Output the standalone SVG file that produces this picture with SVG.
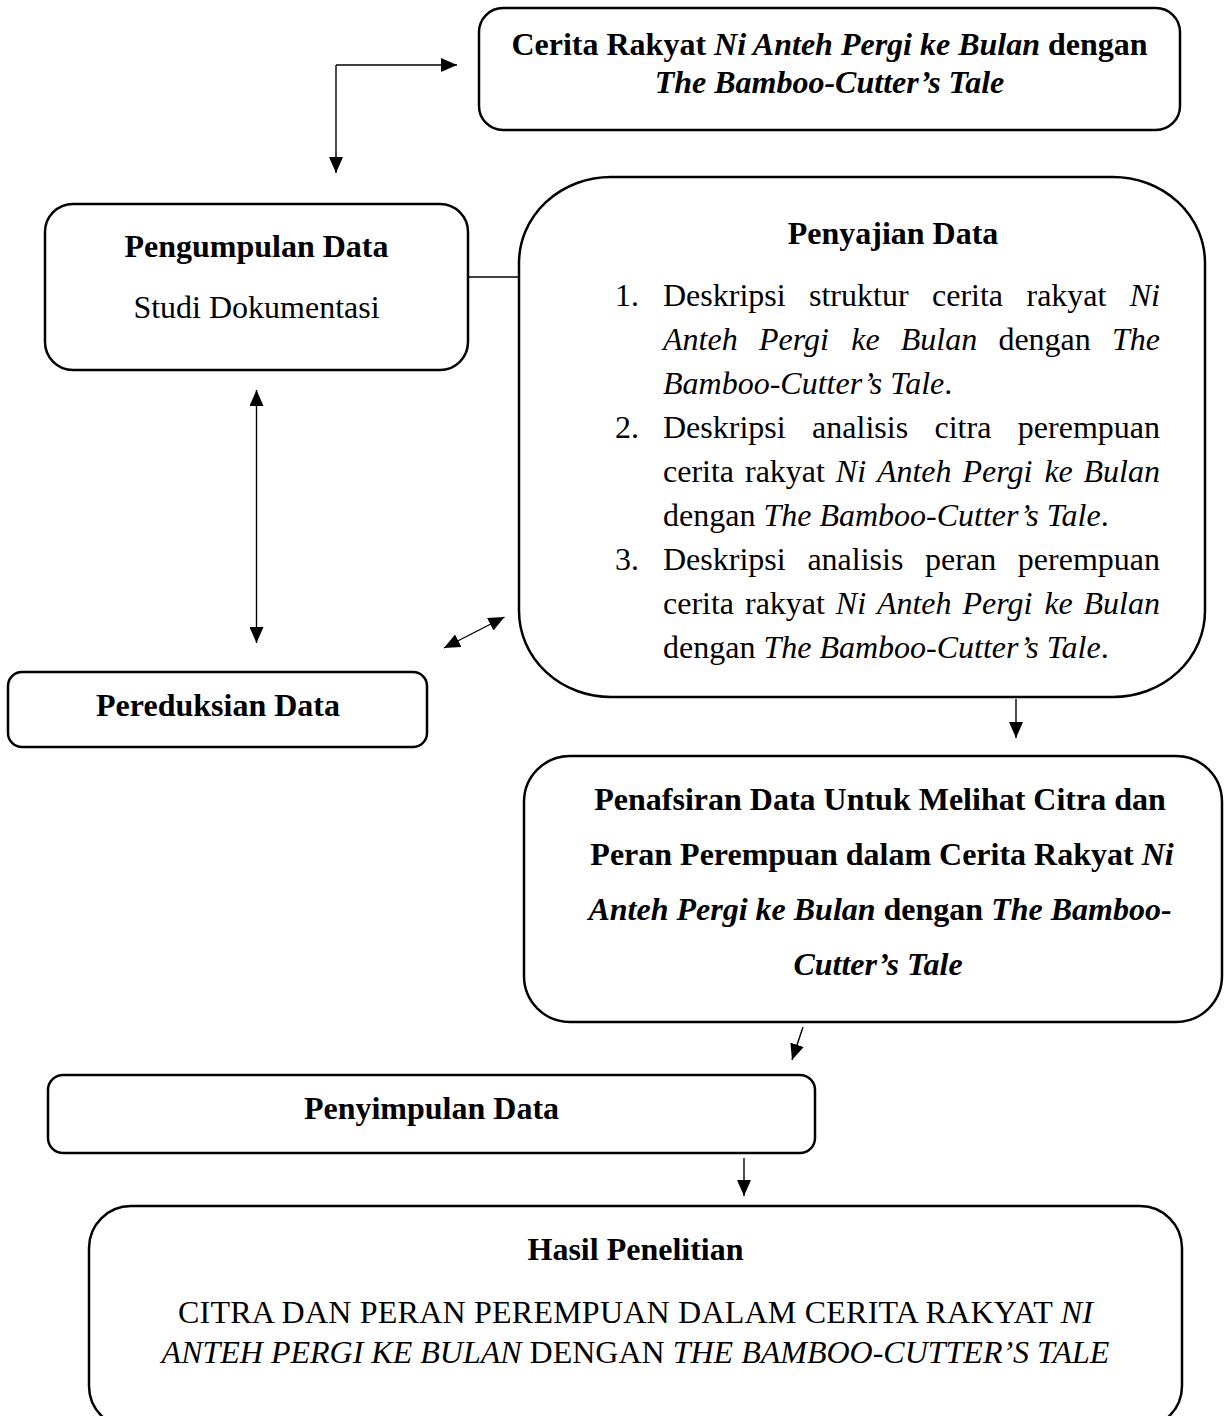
<svg xmlns="http://www.w3.org/2000/svg" width="1225" height="1416" viewBox="0 0 1225 1416">
<style>
  .box { fill: #ffffff; stroke: #000000; stroke-width: 2.5; }
  .conn { fill: none; stroke: #000000; stroke-width: 1.4; }
  text { font-family: "Liberation Serif", "Times New Roman", serif; font-size: 32px; fill: #000000; }
  .b { font-weight: bold; }
  .i { font-style: italic; }
  .c { text-anchor: middle; }
  .e { text-anchor: end; }
</style>
<defs>
  <marker id="arr" markerUnits="userSpaceOnUse" markerWidth="16" markerHeight="14" refX="16" refY="7" orient="auto-start-reverse" viewBox="0 0 16 14">
    <path d="M0,0 L16,7 L0,14 z" fill="#000000"/>
  </marker>
</defs>
<rect width="1225" height="1416" fill="#ffffff"/>

<g id="connectors">
  <path class="conn" d="M336,65 L336,173" marker-end="url(#arr)"/>
  <path class="conn" d="M336,65 L457,65" marker-end="url(#arr)"/>
  <path class="conn" d="M468,277 L520,277"/>
  <path class="conn" d="M256.5,390 L256.5,643" marker-start="url(#arr)" marker-end="url(#arr)"/>
  <path class="conn" d="M444,648 L504.5,617" marker-start="url(#arr)" marker-end="url(#arr)"/>
  <path class="conn" d="M1016,699 L1016,738" marker-end="url(#arr)"/>
  <path class="conn" d="M803,1027 L792,1060" marker-end="url(#arr)"/>
  <path class="conn" d="M744,1158 L744,1196" marker-end="url(#arr)"/>
</g>

<g id="node-cerita">
  <rect class="box" x="479" y="8" width="701" height="122" rx="24" ry="24"/>
  <text class="b c" x="829.5" y="55">Cerita Rakyat <tspan class="i">Ni Anteh Pergi ke Bulan</tspan> dengan</text>
  <text class="b i c" x="829.5" y="93">The Bamboo-Cutter’s Tale</text>
</g>

<g id="node-pengumpulan">
  <rect class="box" x="45" y="204" width="423" height="166" rx="28" ry="28"/>
  <text class="b c" x="256.5" y="257">Pengumpulan Data</text>
  <text class="c" x="256.5" y="318">Studi Dokumentasi</text>
</g>

<g id="node-penyajian">
  <rect class="box" x="519" y="177" width="686" height="520" rx="92" ry="86"/>
  <text class="b c" x="893" y="244">Penyajian Data</text>
  <text x="615" y="306">1.</text>
  <text y="306"><tspan x="663">Deskripsi</tspan><tspan x="809">struktur</tspan><tspan x="932">cerita</tspan><tspan x="1026.5">rakyat</tspan></text>
  <text class="i e" x="1160" y="306">Ni</text>
  <text y="350"><tspan class="i" x="663">Anteh</tspan><tspan class="i" x="759">Pergi</tspan><tspan class="i" x="851.2">ke</tspan><tspan class="i" x="900.8">Bulan</tspan><tspan x="998.4">dengan</tspan></text>
  <text class="i e" x="1160" y="350">The</text>
  <text x="663" y="394"><tspan class="i">Bamboo-Cutter’s Tale</tspan>.</text>
  <text x="615" y="438">2.</text>
  <text y="438"><tspan x="663">Deskripsi</tspan><tspan x="812.1">analisis</tspan><tspan x="934.5">citra</tspan></text>
  <text class="e" x="1160" y="438">perempuan</text>
  <text y="482"><tspan x="663">cerita</tspan><tspan x="745">rakyat</tspan><tspan class="i" x="835.8">Ni</tspan><tspan class="i" x="876.9">Anteh</tspan><tspan class="i" x="962.4">Pergi</tspan><tspan class="i" x="1044.4">ke</tspan></text>
  <text class="i e" x="1160" y="482">Bulan</text>
  <text x="663" y="526">dengan <tspan class="i">The Bamboo-Cutter’s Tale</tspan>.</text>
  <text x="615" y="570">3.</text>
  <text y="570"><tspan x="663">Deskripsi</tspan><tspan x="807.4">analisis</tspan><tspan x="925.1">peran</tspan></text>
  <text class="e" x="1160" y="570">perempuan</text>
  <text y="614"><tspan x="663">cerita</tspan><tspan x="745">rakyat</tspan><tspan class="i" x="835.8">Ni</tspan><tspan class="i" x="876.9">Anteh</tspan><tspan class="i" x="962.4">Pergi</tspan><tspan class="i" x="1044.4">ke</tspan></text>
  <text class="i e" x="1160" y="614">Bulan</text>
  <text x="663" y="658">dengan <tspan class="i">The Bamboo-Cutter’s Tale</tspan>.</text>
</g>

<g id="node-pereduksian">
  <rect class="box" x="8" y="672" width="419" height="75" rx="14" ry="14"/>
  <text class="b c" x="218" y="716">Pereduksian Data</text>
</g>

<g id="node-penafsiran">
  <rect class="box" x="524" y="756" width="698" height="266" rx="46" ry="46"/>
  <text class="b c" x="880" y="810">Penafsiran Data Untuk Melihat Citra dan</text>
  <text class="b c" x="882" y="865">Peran Perempuan dalam Cerita Rakyat <tspan class="i">Ni</tspan></text>
  <text class="b c" x="880" y="920"><tspan class="i">Anteh Pergi ke Bulan</tspan> dengan <tspan class="i">The Bamboo-</tspan></text>
  <text class="b i c" x="878" y="975">Cutter’s Tale</text>
</g>

<g id="node-penyimpulan">
  <rect class="box" x="48" y="1075" width="767" height="78" rx="15" ry="15"/>
  <text class="b c" x="431.5" y="1119">Penyimpulan Data</text>
</g>

<g id="node-hasil">
  <rect class="box" x="89" y="1206" width="1093" height="222" rx="42" ry="42"/>
  <text class="b c" x="635.5" y="1260">Hasil Penelitian</text>
  <text class="c" x="635.5" y="1323" textLength="915" lengthAdjust="spacing">CITRA DAN PERAN PEREMPUAN DALAM CERITA RAKYAT <tspan class="i">NI</tspan></text>
  <text class="c" x="635.5" y="1363"><tspan class="i">ANTEH PERGI KE BULAN</tspan> DENGAN <tspan class="i">THE BAMBOO-CUTTER’S TALE</tspan></text>
</g>
</svg>
